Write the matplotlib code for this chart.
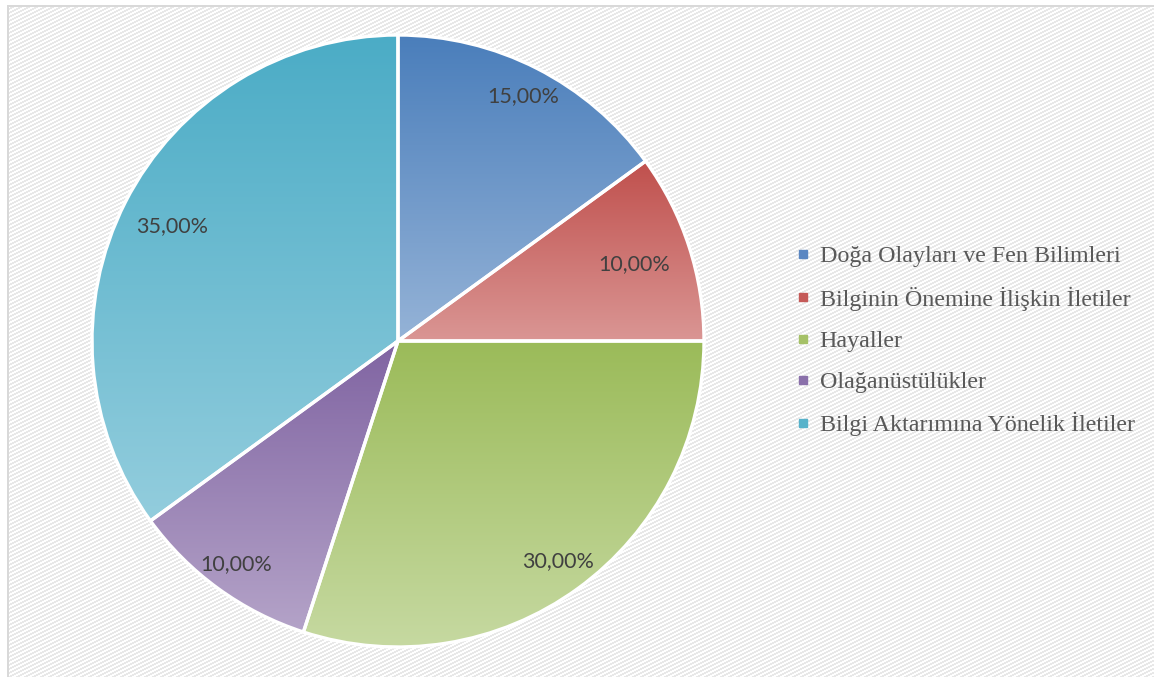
import matplotlib

matplotlib.use("Agg")
import matplotlib.pyplot as plt
import numpy as np
from matplotlib.colors import LinearSegmentedColormap
from matplotlib.lines import Line2D

W, H = 1154, 677

categories = [
    "Doğa Olayları ve Fen Bilimleri",
    "Bilginin Önemine İlişkin İletiler",
    "Hayaller",
    "Olağanüstülükler",
    "Bilgi Aktarımına Yönelik İletiler",
]
shares = [15.0, 10.0, 30.0, 10.0, 35.0]
top_colors = ["#4a7ebb", "#c0504d", "#9bbb59", "#8064a2", "#4bacc6"]
bottom_colors = ["#95b3d7", "#da9694", "#c6d9a1", "#b4a3c8", "#93cddd"]
legend_colors = ["#5b87c2", "#c55a58", "#a5c167", "#8a70aa", "#57b2ca"]
label_radius = [0.90, 0.81, 0.89, 0.90, 0.83]

fig = plt.figure(figsize=(W / 100, H / 100), dpi=100)

# patterned background with thin frame on left/top
bg = fig.add_axes([0, 0, 1, 1])
xx, yy = np.meshgrid(np.arange(W), np.arange(H))
pattern = np.where(((xx // 2 + yy) % 4) < 2, 0.91, 1.0)
pattern[:, :9] = 1.0
pattern[:7, :] = 1.0
pattern[6:, 7:9] = 0.85
pattern[5:7, 7:] = 0.85
bg.imshow(pattern, cmap="gray", vmin=0, vmax=1, interpolation="nearest",
          extent=(0, W, H, 0), aspect="auto")
bg.set_xlim(0, W)
bg.set_ylim(H, 0)
bg.axis("off")

ax = fig.add_axes([0, 0, 1, 1])
ax.patch.set_alpha(0)
cx, cy, r = 398, H - 341, 306

wedges, _ = ax.pie(shares, startangle=90, counterclock=False, center=(cx, cy), radius=r,
                   wedgeprops=dict(edgecolor="white", linewidth=2.4))

for w, c0, c1, val, lr in zip(wedges, top_colors, bottom_colors, shares, label_radius):
    w.set_facecolor("none")
    w.set_zorder(3)
    ext = w.get_path().get_extents()
    cmap = LinearSegmentedColormap.from_list("g", [c1, c0])
    grad = np.linspace(0, 1, 256).reshape(-1, 1)
    ax.imshow(grad, cmap=cmap, origin="lower", aspect="auto", zorder=2,
              extent=(ext.x0, ext.x1, ext.y0, ext.y1), clip_path=w)
    ang = np.deg2rad((w.theta1 + w.theta2) / 2)
    ax.text(cx + lr * r * np.cos(ang), cy + lr * r * np.sin(ang), f"{val:.2f}%".replace(".", ","),
            ha="center", va="center", fontsize=15.5, family="Lato", color="#404040", zorder=4)

ax.set_xlim(0, W)
ax.set_ylim(0, H)
ax.set_aspect("equal")
ax.axis("off")

handles = [Line2D([], [], marker="s", ls="none", markersize=6, markerfacecolor=c, markeredgecolor=c)
           for c in legend_colors]
ax.legend(handles, categories, loc="center left", bbox_to_anchor=(786 / W, 1 - 341 / H),
          frameon=False, prop=dict(family="Liberation Serif", size=17.3), labelcolor="#595959",
          handlelength=0.6, handletextpad=0.4, labelspacing=0.8, borderaxespad=0)

fig.savefig("out.png", dpi=100)
